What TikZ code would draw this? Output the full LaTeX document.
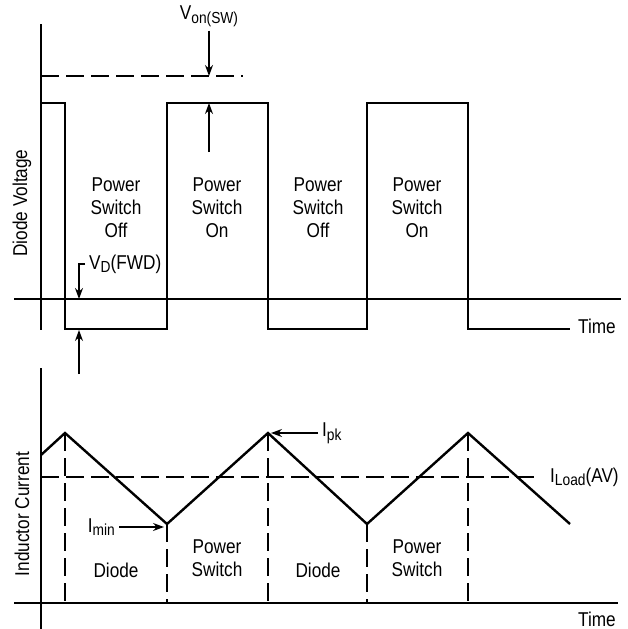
\documentclass[tikz,border=0pt]{standalone}
\usepackage{fontspec}
\setmainfont{Liberation Sans}[FakeStretch=0.86]
\usetikzlibrary{arrows.meta, positioning}

\newcommand{\lowsub}[1]{\raisebox{-0.35ex}{\fontsize{16}{16}\selectfont #1}}

\begin{document}
\begin{tikzpicture}[x=1pt, y=-1pt,
  wave/.style={line width=2.6pt},
  axis/.style={line width=1.2pt},
  guide/.style={line width=1.2pt, dash pattern=on 18pt off 7pt},
  pointer/.style={line width=1.2pt, -{Stealth[length=11pt, width=8pt]}},
  lbl/.style={font=\fontsize{20}{23}\selectfont, align=center, inner sep=0pt},
  tag/.style={font=\fontsize{20}{23}\selectfont, inner sep=4pt}]

  \useasboundingbox (0,0) rectangle (628,629);

  % Diode voltage panel
  \draw[axis] (41,24) -- (41,330);
  \draw[axis] (14,299) -- (621,299);
  \draw[guide] (41,76) -- (243,76);
  \draw[wave] (41,103) -- (65,103) -- (65,329) -- (167,329) -- (167,103)
    -- (268,103) -- (268,329) -- (367,329) -- (367,103) -- (468,103)
    -- (468,329) -- (570,329);

  \node[lbl, rotate=90] (vaxis) at (22,203) {Diode Voltage};
  \node[tag, anchor=west] (vtime) at (574,326) {Time};

  \node[lbl] (off1) at (116,208) {Power\\Switch\\Off};
  \node[lbl] (on1) at (217,208) {Power\\Switch\\On};
  \node[lbl] (off2) at (318,208) {Power\\Switch\\Off};
  \node[lbl] (on2) at (417,208) {Power\\Switch\\On};

  % V_on(SW) marker
  \node[tag] (von) at (209,16) {V\lowsub{on(SW)}};
  \coordinate (vontop) at (209,76);
  \coordinate (vonbase) at (209,152);
  \coordinate (vonhigh) at (209,103);
  \draw[pointer] (von) -- (vontop);
  \draw[pointer] (vonbase) -- (vonhigh);

  % V_D(FWD) marker
  \node[tag, anchor=west] (vfwd) at (85,264) {V\lowsub{D}(FWD)};
  \coordinate (fwdzero) at (79,299);
  \coordinate (fwdbase) at (79,374);
  \coordinate (fwdlow) at (79,330);
  \draw[pointer] (vfwd.west) -| (fwdzero);
  \draw[pointer] (fwdbase) -- (fwdlow);

  % Inductor current panel
  \draw[axis] (41,368) -- (41,629);
  \draw[axis] (14,603) -- (618,603);
  \draw[guide] (41,477) -- (538,477);
  \foreach \x/\y in {65/433, 167/524, 268/433, 367/524, 468/433}
    \draw[guide] (\x,\y) -- (\x,603);
  \draw[wave, line width=2.4pt] (41,455) -- (65,433) -- (167,524) -- (268,433)
    -- (367,524) -- (468,433) -- (570,524);

  \node[lbl, rotate=90] (iaxis) at (22,514) {Inductor Current};
  \node[tag, anchor=west] (itime) at (574,619) {Time};
  \node[tag, anchor=west] (iload) at (546,477) {I\lowsub{Load}(AV)};

  \node[lbl] (diode1) at (116,570) {Diode};
  \node[lbl] (sw1) at (217,558) {Power\\Switch};
  \node[lbl] (diode2) at (318,570) {Diode};
  \node[lbl] (sw2) at (417,558) {Power\\Switch};

  % peak and valley markers
  \node[tag, anchor=west] (ipk) at (318,433) {I\lowsub{pk}};
  \coordinate (ipktip) at (271,433);
  \draw[pointer] (ipk) -- (ipktip);
  \node[tag, anchor=east] (imin) at (119,527) {I\lowsub{min}};
  \coordinate (imintip) at (164,527);
  \draw[pointer] (imin) -- (imintip);
\end{tikzpicture}
\end{document}
